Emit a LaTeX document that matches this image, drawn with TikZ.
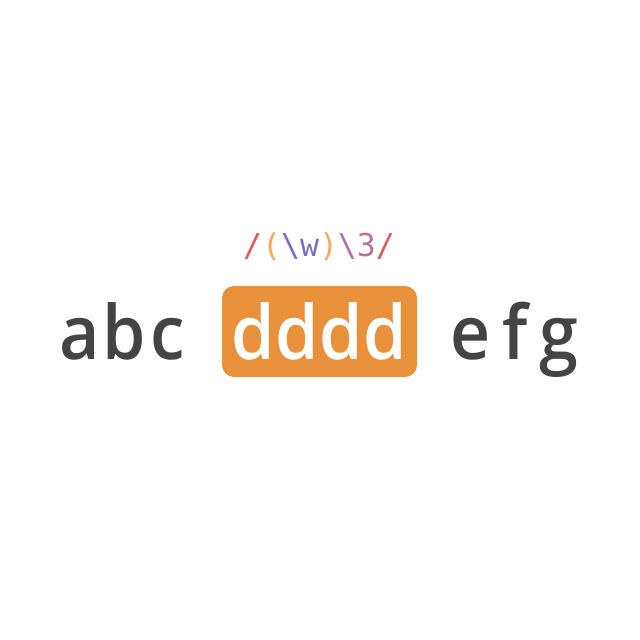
\documentclass[tikz,border=0pt]{standalone}
\usepackage{fontspec}
\setmainfont{Open Sans}[BoldFont={Open Sans Semibold},BoldFeatures={FakeStretch=0.93}]
\setmonofont{DejaVu Sans Mono}
\usepackage{tikz}
\usetikzlibrary{positioning}

\definecolor{ink}{HTML}{444444}
\definecolor{hit}{HTML}{E8913A}
\definecolor{slash}{HTML}{E05A5A}
\definecolor{paren}{HTML}{F5AA55}
\definecolor{word}{HTML}{7B6CC2}
\definecolor{backref}{HTML}{B870A0}

% one fixed-width cell per letter
\newcommand\cell[1]{\makebox[44pt]{#1}}

\tikzset{
  plain/.style={text=ink,font=\fontsize{75}{75}\selectfont\bfseries,inner sep=0pt},
  matchbox/.style={fill=hit,text=white,rounded corners=12pt,minimum width=195pt,
    minimum height=91pt,inner sep=0pt,font=\fontsize{75}{75}\selectfont\bfseries},
  pattern/.style={font=\fontsize{31.5}{31.5}\selectfont\ttfamily,inner sep=0pt}
}

\begin{document}
\begin{tikzpicture}[x=1pt,y=1pt]
  \useasboundingbox (0,0) rectangle (640,640);
  % the regex on top
  \node[pattern] (regex) at (319,393)
    {\textcolor{slash}{/}\textcolor{paren}{(}\textcolor{word}{\textbackslash w}\textcolor{paren}{)}\textcolor{backref}{\textbackslash 3}\textcolor{slash}{/}};
  % input string, the repeated run highlighted
  \node[matchbox] (match) at (319.5,308.5) {\cell{d}\cell{d}\cell{d}\cell{d}};
  \node[plain,anchor=base] (before) at (124,280) {\cell{a}\cell{b}\cell{c}};
  \node[plain,anchor=base] (after) at (515,280) {\cell{e}\cell{f}\cell{g}};
\end{tikzpicture}
\end{document}
